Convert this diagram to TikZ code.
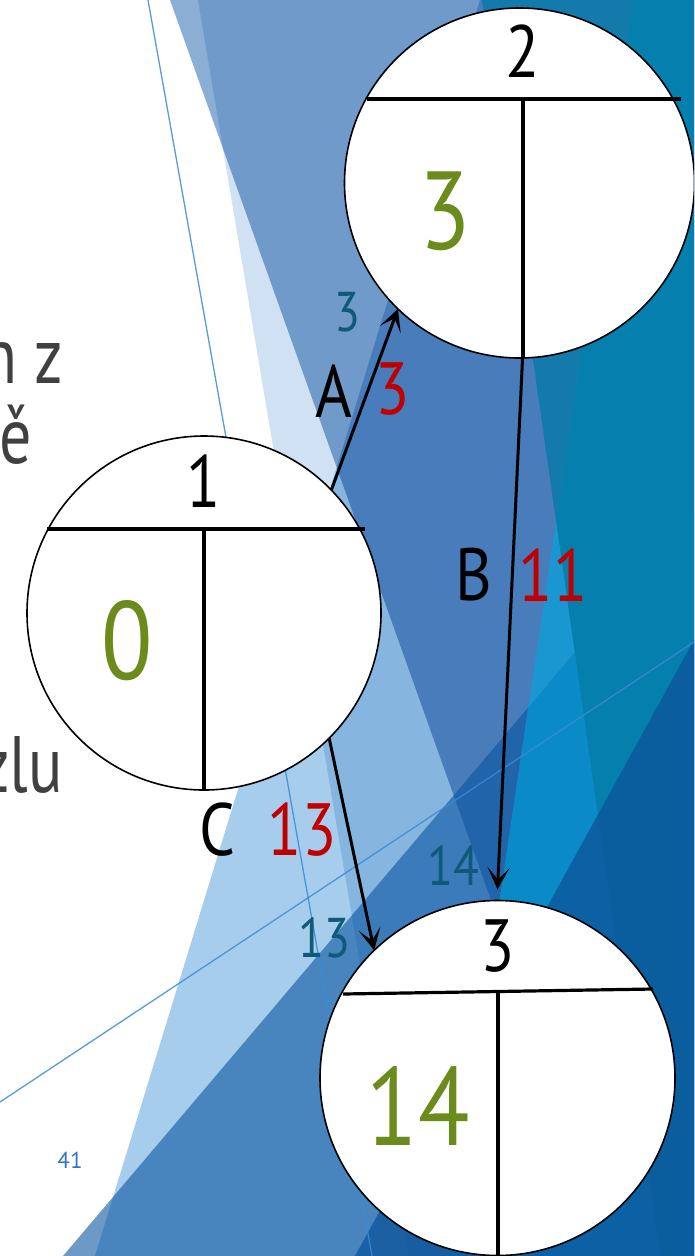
\documentclass[tikz,border=0pt]{standalone}
\usepackage{fontspec}
\setmainfont{PT Sans}
\newfontfamily\diagfont[FakeStretch=0.85]{PT Sans}
\newfontfamily\slidefont[FakeStretch=0.8]{PT Sans}
\usetikzlibrary{arrows.meta}
\definecolor{ca}{HTML}{8BAFD4}
\definecolor{cb}{HTML}{CFE1F2}
\definecolor{cc}{HTML}{A6CEEC}
\definecolor{cd}{HTML}{0A55A0}
\definecolor{ce}{HTML}{137AAB}
\definecolor{cftwo}{HTML}{047FAE}
\definecolor{cfone}{HTML}{1A96D0}
\definecolor{cfoned}{HTML}{0A8BC8}
\definecolor{cnavy}{HTML}{0D5499}
\definecolor{cthin}{HTML}{3A8AD8}
\definecolor{cgreen}{HTML}{6B8C1C}
\definecolor{cred}{HTML}{C00000}
\definecolor{cteal}{HTML}{0F5A78}
\definecolor{cgrey}{HTML}{404040}
\definecolor{cpage}{HTML}{2E74C9}
\begin{document}
\begin{tikzpicture}[x=1pt,y=-1pt,
  circ/.style={circle,draw=black,line width=1.6pt,fill=white,inner sep=0pt,outer sep=0pt},
  innerline/.style={line width=3.2pt,black},
  arr/.style={line width=3pt,black,-{Stealth[length=22pt,width=22pt,inset=12pt]}},
  lbl/.style={inner sep=0pt,font=\diagfont\fontsize{74}{74}\selectfont},
  bigval/.style={inner sep=0pt,text=cgreen,font=\diagfont\fontsize{111}{111}\selectfont},
  smallval/.style={inner sep=0pt,text=cteal,font=\diagfont\fontsize{56}{56}\selectfont},
  slidetext/.style={inner sep=0pt,text=cgrey,font=\slidefont\fontsize{80}{80}\selectfont},
  guide/.style={line width=1.3pt,draw=cthin,draw opacity=0.85}
]
\useasboundingbox (0,0) rectangle (694,1256);
\clip (0,0) rectangle (694,1256);
\fill[white] (0,0) rectangle (694,1256);
% background facets
\begin{scope}[blend mode=multiply]
  \fill[ca] (170,0) -- (694,0) -- (694,1256) -- (618,1256) -- cycle;
  \fill[cb] (198,0) -- (694,0) -- (694,1256) -- (409,1256) -- cycle;
  \fill[cc] (480,0) -- (694,0) -- (694,1256) -- (95,1256) -- cycle;
\end{scope}
\fill[cd,fill opacity=0.6] (694,512) -- (694,1256) -- (63,1256) -- cycle;
\fill[ce] (482,0) -- (633,0) -- (556,521) -- cycle;
\fill[cftwo] (633,0) -- (694,0) -- (694,1256) -- (660,1256) -- (556,521) -- cycle;
\fill[cfone] (556,521) -- (660,1256) -- (447,1256) -- cycle;
\begin{scope}
  \clip (556,521) -- (660,1256) -- (447,1256) -- cycle;
  \fill[cfoned] (694,512) -- (694,1256) -- (63,1256) -- cycle;
\end{scope}
\fill[cnavy,fill opacity=0.75] (694,640) -- (694,1256) -- (355,1256) -- cycle;
\draw[guide] (148,0) -- (372,1256);
\draw[guide] (0,1102) -- (694,642);
% slide text
\node[slidetext,anchor=base east] (s1) at (63,383) {n z};
\node[slidetext,anchor=base east] (s2) at (32,463) {ě};
\node[slidetext,anchor=base east] (s3) at (63,792) {zlu};
\node[inner sep=0pt,text=cpage,font=\fontsize{23}{23}\selectfont] (pg) at (70,1160) {41};
% nodes
\node[circ,minimum size=350pt] (n2) at (519.5,183) {};
\node[circ,minimum size=354pt] (n1) at (204,613) {};
\node[circ,minimum size=355pt] (n3) at (497.5,1078) {};
\draw[innerline] (367,99) -- (681,99);
\draw[innerline] (523,99) -- (523,358);
\draw[innerline] (47,529) -- (365,529);
\draw[innerline] (204,529) -- (204,790);
\draw[innerline] (343,994) -- (653,989);
\draw[innerline] (498,991.5) -- (498,1260);
% arrows
\draw[arr] (n1.44.5) -- (n2.226.6);
\draw[arr] (n2.271) -- ([yshift=11pt]n3.north);
\draw[arr] (n1.315) -- (n3.134.4);
% labels
\node[lbl] (t2) at (523,51) {2};
\node[lbl] (t1) at (204,481) {1};
\node[lbl] (t3) at (498,946) {3};
\node[bigval] (v2) at (445,211) {3};
\node[bigval] (v1) at (127,641) {0};
\node[bigval] (v3) at (418,1106) {14};
\node[lbl] (la) at (334,391) {A};
\node[lbl,text=cred] (da) at (393,389) {3};
\node[smallval] (ea) at (347,312) {3};
\node[lbl] (lb) at (474,575) {B};
\node[lbl,text=cred] (db) at (553,575) {11};
\node[smallval] (eb) at (453,866) {14};
\node[lbl] (lc) at (217,830) {C};
\node[lbl,text=cred] (dc) at (302,830) {13};
\node[smallval] (ec) at (324,938) {13};
\end{tikzpicture}
\end{document}
